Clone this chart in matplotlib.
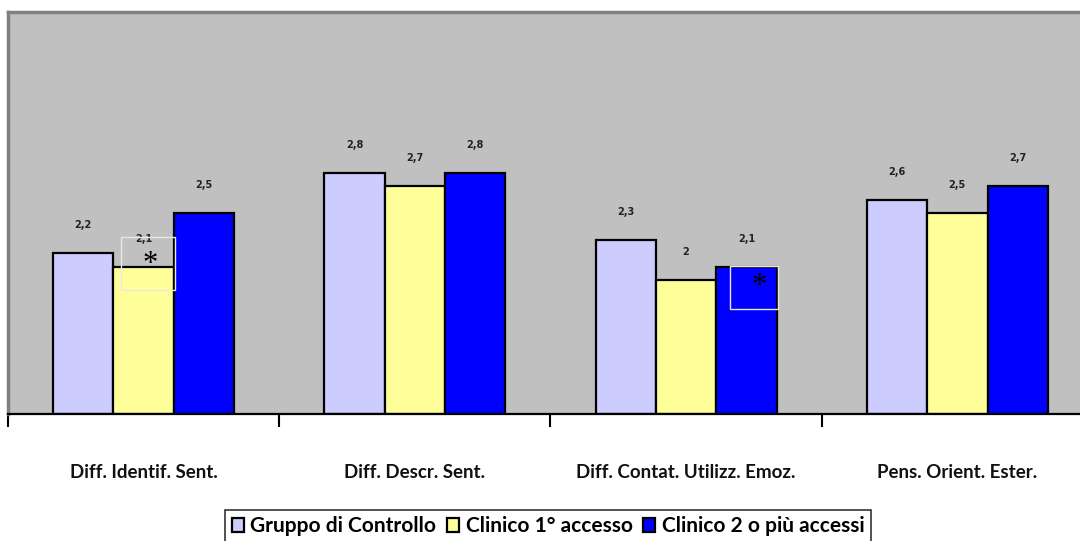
import matplotlib
matplotlib.use("Agg")
import matplotlib.pyplot as plt
from matplotlib.patches import Rectangle
import matplotlib.transforms as mtransforms
import numpy as np

categories = ["Diff. Identif. Sent.", "Diff. Descr. Sent.",
              "Diff. Contat. Utilizz. Emoz.", "Pens. Orient. Ester."]
series = ["Gruppo di Controllo", "Clinico 1° accesso", "Clinico 2 o più accessi"]
controllo = [2.2, 2.8, 2.3, 2.6]
clinico_1 = [2.1, 2.7, 2.0, 2.5]
clinico_2 = [2.5, 2.8, 2.1, 2.7]
colors = ["#CCCCFF", "#FFFF99", "#0000FF"]

# significant differences: (series index, category index)
starred = [(1, 0), (2, 2)]

W, H = 1080, 541
fig = plt.figure(figsize=(W / 100, H / 100), dpi=100)
fig.patch.set_facecolor("white")
ax = fig.add_axes([8 / W, (H - 414) / H, 1085 / W, 402 / H])
ax.set_facecolor("#C0C0C0")

x = np.arange(len(categories))
bw = 1 / 4.5
values = [controllo, clinico_1, clinico_2]
for k, (vals, col, name) in enumerate(zip(values, colors, series)):
    pos = x + (k - 1) * bw
    ax.bar(pos, np.array(vals) - 1, bottom=1, width=bw, color=col,
           edgecolor="black", linewidth=1.6, label=name, zorder=2)
    for px, v in zip(pos, vals):
        lab = ("%g" % v).replace(".", ",")
        ax.annotate(lab, (px, v), xytext=(0, 20), textcoords="offset points",
                    ha="center", va="center", fontsize=7, fontweight="bold",
                    family="DejaVu Sans", color="#222222")

# asterisk boxes over the significant bars (offsets from bar centre)
box_off = {(1, 0): (-0.083, 1.925, 0.199, 0.396, 0.024, 2.112),
           (2, 2): (-0.061, 1.784, 0.177, 0.320, 0.046, 1.950)}
for k, c in starred:
    dx, y0, bwid, bh, ax_, ay = box_off[(k, c)]
    cx = x[c] + (k - 1) * bw
    ax.add_patch(Rectangle((cx + dx, y0), bwid, bh, fill=False,
                           edgecolor="#E8E8E8", linewidth=1, zorder=3))
    ax.text(cx + ax_, ay, "*", ha="center", va="center", fontsize=22,
            family="Liberation Serif", color="black", zorder=4)

ax.set_xlim(-0.5, 3.5)
ax.set_ylim(1, 4)
ax.set_yticks([])
ax.set_xticks(np.arange(-0.5, 4, 1))
ax.set_xticklabels([])
ax.tick_params(axis="x", length=9, width=1.5, direction="out", color="black")

for s in ["left", "top"]:
    ax.spines[s].set_color("#808080")
    ax.spines[s].set_linewidth(2.5)
ax.spines["right"].set_visible(False)
ax.spines["bottom"].set_color("black")
ax.spines["bottom"].set_linewidth(1.6)

trans = mtransforms.blended_transform_factory(ax.transData, ax.transAxes)
for xi, cat in zip(x, categories):
    ax.text(xi, -59 / 402, cat, transform=trans, ha="center", va="center",
            fontsize=13.5, fontweight="bold", family="Lato", color="#111111")

leg = fig.legend(loc="upper center", bbox_to_anchor=(548 / W, (H - 510) / H),
                 ncol=3, frameon=True, fancybox=False, edgecolor="black",
                 prop={"family": "Lato", "weight": "bold", "size": 15},
                 handlelength=0.6, handleheight=0.6, handletextpad=0.3,
                 columnspacing=0.5, borderpad=0.3, borderaxespad=0)
leg.get_frame().set_linewidth(1.2)

fig.savefig("out.png", dpi=100)
